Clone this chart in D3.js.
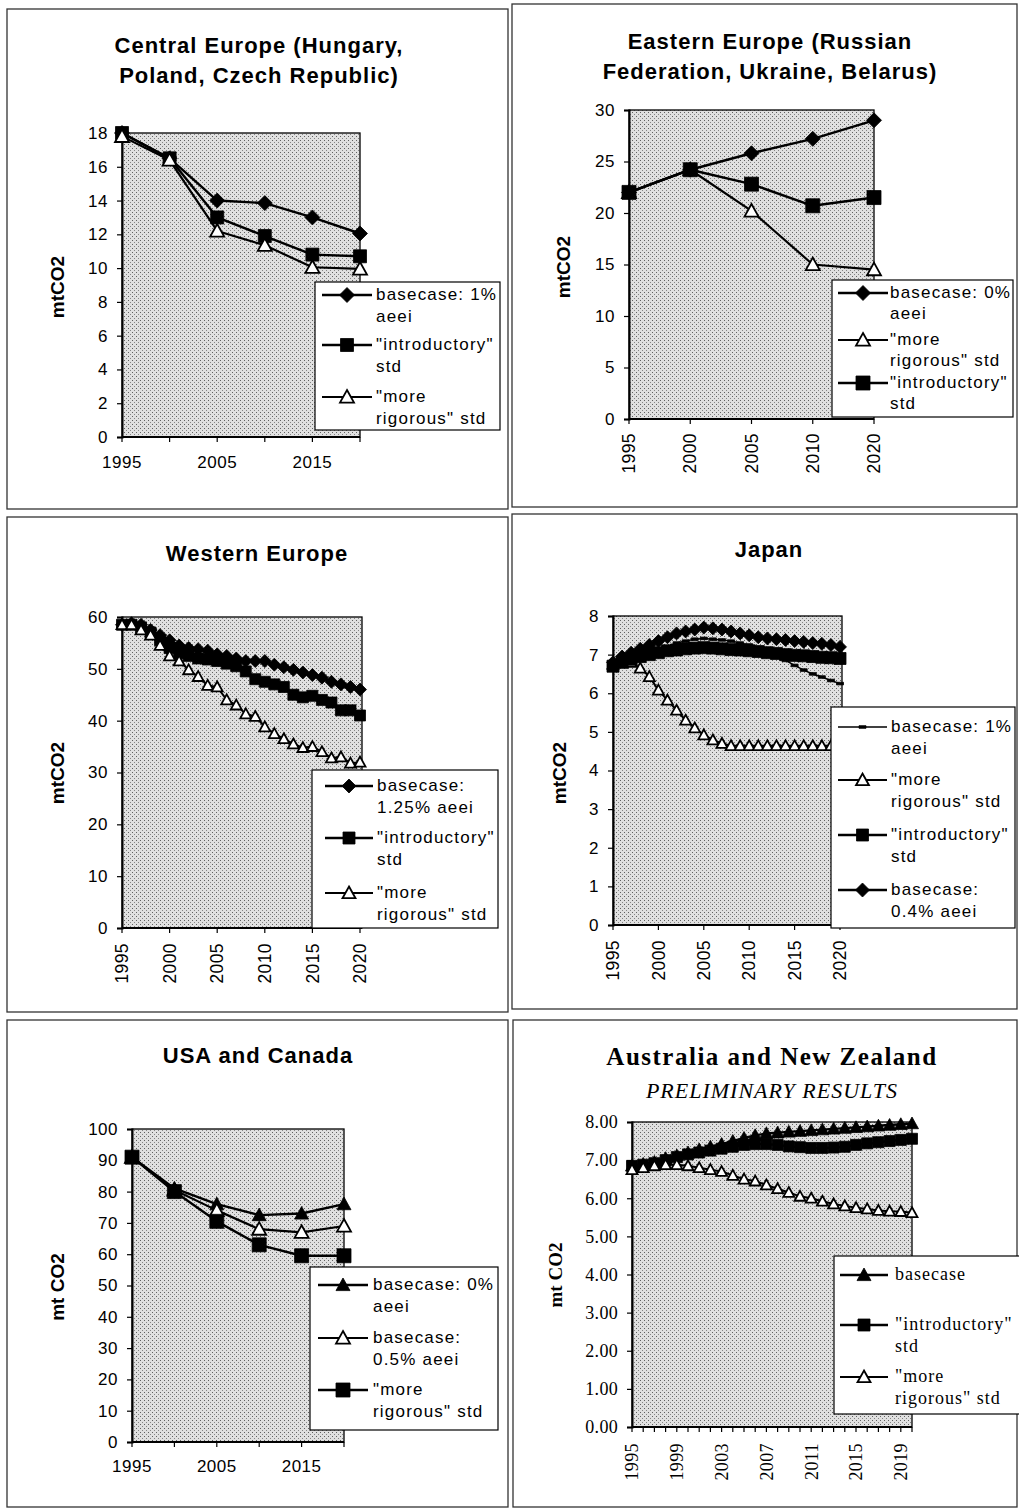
<!DOCTYPE html>
<html><head><meta charset="utf-8">
<script src="https://cdn.jsdelivr.net/npm/d3@7"></script>
<style>body{margin:0;background:#fff}</style>
</head><body>
<script>
// ---------------- DATA ----------------
// Central Europe
const ceYears = [1995, 2000, 2005, 2010, 2015, 2020];
const ceBase1 = [18.0, 16.5, 14.0, 13.85, 13.0, 12.05];
const ceIntro = [18.0, 16.5, 13.0, 11.9, 10.8, 10.7];
const ceRigor = [17.8, 16.4, 12.2, 11.35, 10.05, 9.95];
const ceYTicks = [0, 2, 4, 6, 8, 10, 12, 14, 16, 18];
const ceXLabels = [1995, 2005, 2015];

// Eastern Europe
const eeYears = [1995, 2000, 2005, 2010, 2020];
const eeBase0 = [22.0, 24.2, 25.8, 27.2, 29.0];
const eeRigor = [22.0, 24.2, 20.2, 15.0, 14.5];
const eeIntro = [22.0, 24.2, 22.8, 20.7, 21.5];
const eeYTicks = [0, 5, 10, 15, 20, 25, 30];
const eeXLabels = [1995, 2000, 2005, 2010, 2020];

// Annual categories
const annualYears = [1995,1996,1997,1998,1999,2000,2001,2002,2003,2004,2005,2006,2007,2008,2009,2010,2011,2012,2013,2014,2015,2016,2017,2018,2019,2020];

// Western Europe
const weBase125 = [58.5,58.8,58.5,57.5,56.5,55.5,54.5,54.0,53.8,53.5,52.8,52.5,52.0,51.5,51.5,51.5,50.8,50.3,49.8,49.3,48.8,48.3,47.5,47.0,46.5,46.0];
const weIntro   = [58.5,58.5,58.0,57.0,55.5,54.0,53.0,52.5,52.0,51.8,51.5,51.0,50.5,49.5,48.0,47.5,47.0,46.5,45.0,44.5,44.8,44.0,43.5,42.0,42.0,41.0];
const weRigor   = [58.5,58.5,57.5,56.5,54.5,52.5,51.5,49.8,48.5,46.8,46.5,44.0,43.0,41.3,40.8,38.8,37.5,36.5,35.5,34.8,35.0,34.0,32.8,33.0,31.8,32.0];
const weYTicks = [0, 10, 20, 30, 40, 50, 60];
const weXLabels = [1995, 2000, 2005, 2010, 2015, 2020];

// Japan
const jpBase1  = [6.75,6.85,6.95,7.0,7.05,7.1,7.2,7.3,7.35,7.4,7.42,7.4,7.38,7.35,7.3,7.25,7.15,7.05,6.95,6.85,6.72,6.6,6.5,6.42,6.33,6.25];
const jpRigor  = [6.75,6.8,6.8,6.65,6.43,6.08,5.82,5.56,5.3,5.1,4.92,4.79,4.7,4.64,4.64,4.64,4.64,4.64,4.64,4.64,4.64,4.64,4.64,4.64,4.64,4.64];
const jpIntro  = [6.7,6.8,6.88,6.95,7.0,7.05,7.1,7.12,7.15,7.17,7.18,7.17,7.15,7.13,7.12,7.1,7.08,7.05,7.03,7.0,6.98,6.97,6.95,6.93,6.92,6.9];
const jpBase04 = [6.8,6.95,7.05,7.15,7.25,7.35,7.45,7.55,7.6,7.65,7.7,7.68,7.65,7.6,7.55,7.5,7.45,7.42,7.4,7.38,7.35,7.33,7.3,7.28,7.25,7.2];
const jpYTicks = [0, 1, 2, 3, 4, 5, 6, 7, 8];
const jpXLabels = [1995, 2000, 2005, 2010, 2015, 2020];

// USA and Canada
const usYears = [1995, 2000, 2005, 2010, 2015, 2020];
const usBase0  = [91, 81, 76, 72.5, 73, 76];
const usBase05 = [91, 80.5, 74, 68, 67, 69];
const usRigor  = [91, 80, 70.5, 63, 59.5, 59.5];
const usYTicks = [0, 10, 20, 30, 40, 50, 60, 70, 80, 90, 100];
const usXLabels = [1995, 2005, 2015];

// Australia and New Zealand
const auBase  = [6.85,6.9,6.95,7.05,7.12,7.2,7.28,7.35,7.42,7.5,7.58,7.65,7.7,7.72,7.74,7.76,7.78,7.8,7.82,7.84,7.86,7.88,7.9,7.92,7.94,7.96];
const auIntro = [6.85,6.88,6.92,7.0,7.08,7.15,7.2,7.25,7.3,7.35,7.4,7.42,7.42,7.4,7.36,7.34,7.32,7.32,7.33,7.35,7.4,7.44,7.47,7.5,7.53,7.56];
const auRigor = [6.75,6.8,6.85,6.88,6.88,6.85,6.8,6.75,6.7,6.6,6.5,6.45,6.35,6.25,6.15,6.05,6.0,5.92,5.85,5.8,5.75,5.72,5.68,5.66,5.65,5.62];
const auYTicks = [0, 1, 2, 3, 4, 5, 6, 7, 8];
const auXLabels = [1995, 1999, 2003, 2007, 2011, 2015, 2019];

// ---------------- LAYOUT ----------------
const W = 1019, H = 1508;
const svg = d3.select("body").append("svg").attr("width", W).attr("height", H)
  .style("display","block");
svg.append("rect").attr("width", W).attr("height", H).attr("fill", "#fff");

const defs = svg.append("defs");
const pat = defs.append("pattern").attr("id","dots").attr("patternUnits","userSpaceOnUse")
  .attr("width",4).attr("height",4);
pat.append("rect").attr("width",4).attr("height",4).attr("fill","#e0e0e0");
pat.append("rect").attr("x",0).attr("y",0).attr("width",1).attr("height",1).attr("fill","#606060");
pat.append("rect").attr("x",2).attr("y",2).attr("width",1).attr("height",1).attr("fill","#858585");

const SANS = "Liberation Sans, Arial, sans-serif";
const SERIF = "Liberation Serif, Times New Roman, serif";

function markerPath(type, r) {
  if (type === "diamond") return `M0,${-r}L${r},0L0,${r}L${-r},0Z`;
  if (type === "square") return `M${-r},${-r}H${r}V${r}H${-r}Z`;
  if (type === "triangle") return `M0,${-r}L${r},${r*0.8}L${-r},${r*0.8}Z`;
  if (type === "dash") return `M-3.5,-1.3H3.5V1.3H-3.5Z`;
  return "";
}

const panels = [
  { frame:[7,9,508,509], plot:[122,133,360,437], xs:{type:"point", cats:ceYears, r0:122, r1:360},
    yTicks:ceYTicks, yFmt:d=>d, xLabels:ceXLabels, xRot:false, xLabY:468, minorTicks:ceYears,
    title:["Central Europe (Hungary,","Poland, Czech Republic)"], titleY:[53,83], titleX:259,
    ylab:"mtCO2", ylabX:57, ylabY:287, serif:false,
    legend:{box:[315,282,500,430], ys:[295,345,397], lx:[322,372], tx:376},
    series:[
      {name:["basecase: 1%","aeei"], cats:ceYears, vals:ceBase1, m:"diamond", r:7.5, fill:"#000", lw:2.4},
      {name:["\"introductory\"","std"], cats:ceYears, vals:ceIntro, m:"square", r:6.5, fill:"#000", lw:2.4},
      {name:["\"more","rigorous\" std"], cats:ceYears, vals:ceRigor, m:"triangle", r:7, fill:"#fff", lw:2.2}
    ]},
  { frame:[512,4,1017,507], plot:[629,110,874,419], xs:{type:"point", cats:eeYears, r0:629, r1:874},
    yTicks:eeYTicks, yFmt:d=>d, xLabels:eeXLabels, xRot:true, xLabY:433, minorTicks:eeYears,
    title:["Eastern Europe (Russian","Federation, Ukraine, Belarus)"], titleY:[49,79], titleX:770,
    ylab:"mtCO2", ylabX:563, ylabY:267, serif:false,
    legend:{box:[832,280,1013,417], ys:[293,340,383], lx:[838,888], tx:890, lh:21},
    series:[
      {name:["basecase: 0%","aeei"], cats:eeYears, vals:eeBase0, m:"diamond", r:7.5, fill:"#000", lw:2.4},
      {name:["\"more","rigorous\" std"], cats:eeYears, vals:eeRigor, m:"triangle", r:7, fill:"#fff", lw:2.2},
      {name:["\"introductory\"","std"], cats:eeYears, vals:eeIntro, m:"square", r:7, fill:"#000", lw:2.4}
    ]},
  { frame:[7,517,508,1012], plot:[122,617,362,928], xs:{type:"linear", d0:1995, d1:2020, r0:122, r1:360},
    yTicks:weYTicks, yFmt:d=>d, xLabels:weXLabels, xRot:true, xLabY:943, minorTicks:weXLabels,
    title:["Western Europe"], titleY:[561], titleX:257,
    ylab:"mtCO2", ylabX:57, ylabY:773, serif:false,
    legend:{box:[312,770,498,928], ys:[786,838,893], lx:[325,373], tx:377},
    series:[
      {name:["basecase:","1.25% aeei"], cats:annualYears, vals:weBase125, m:"diamond", r:6.5, fill:"#000", lw:2.4, lr:7},
      {name:["\"introductory\"","std"], cats:annualYears, vals:weIntro, m:"square", r:5.5, fill:"#000", lw:2.4, lr:6},
      {name:["\"more","rigorous\" std"], cats:annualYears, vals:weRigor, m:"triangle", r:5.5, fill:"#fff", lw:2, lr:6.5}
    ]},
  { frame:[512,514,1017,1009], plot:[613,616,842,925], xs:{type:"linear", d0:1995, d1:2020, r0:613, r1:840},
    yTicks:jpYTicks, yFmt:d=>d, xLabels:jpXLabels, xRot:true, xLabY:940, minorTicks:jpXLabels,
    title:["Japan"], titleY:[557], titleX:769,
    ylab:"mtCO2", ylabX:559, ylabY:773, serif:false,
    legend:{box:[831,707,1015,928], ys:[727,780,835,890], lx:[838,887], tx:891},
    series:[
      {name:["basecase: 1%","aeei"], cats:annualYears, vals:jpBase1, m:"dash", r:3, fill:"#000", lw:1.5},
      {name:["\"more","rigorous\" std"], cats:annualYears, vals:jpRigor, m:"triangle", r:5.5, fill:"#fff", lw:2, lr:6.5},
      {name:["\"introductory\"","std"], cats:annualYears, vals:jpIntro, m:"square", r:6, fill:"#000", lw:2.4, lr:6},
      {name:["basecase:","0.4% aeei"], cats:annualYears, vals:jpBase04, m:"diamond", r:6.5, fill:"#000", lw:2.4, lr:7}
    ]},
  { frame:[7,1020,508,1507], plot:[132,1129,344,1442], xs:{type:"point", cats:usYears, r0:132, r1:344},
    yTicks:usYTicks, yFmt:d=>d, xLabels:usXLabels, xRot:false, xLabY:1472, minorTicks:usYears,
    title:["USA and Canada"], titleY:[1063], titleX:258,
    ylab:"mt CO2", ylabX:57, ylabY:1287, serif:false,
    legend:{box:[310,1267,498,1430], ys:[1285,1338,1390], lx:[318,368], tx:373},
    series:[
      {name:["basecase: 0%","aeei"], cats:usYears, vals:usBase0, m:"triangle", r:7, fill:"#000", lw:2.4},
      {name:["basecase:","0.5% aeei"], cats:usYears, vals:usBase05, m:"triangle", r:7, fill:"#fff", lw:2.2},
      {name:["\"more","rigorous\" std"], cats:usYears, vals:usRigor, m:"square", r:7, fill:"#000", lw:2.4}
    ]},
  { frame:[513,1020,1017,1507], plot:[632,1122,912,1427], xs:{type:"linear", d0:1995, d1:2020, r0:632, r1:912},
    yTicks:auYTicks, yFmt:d3.format(".2f"), xLabels:auXLabels, xRot:true, xLabY:1443, minorTicks:annualYears,
    title:["Australia and New Zealand"], titleY:[1065], titleX:772, subtitle:"PRELIMINARY RESULTS", subY:1098,
    ylab:"mt CO2", ylabX:555, ylabY:1275, serif:true,
    legend:{box:[834,1256,1025,1414], ys:[1275,1325,1377], lx:[840,888], tx:895},
    series:[
      {name:["basecase"], cats:annualYears, vals:auBase, m:"triangle", r:6.5, fill:"#000", lw:2.4, lr:7},
      {name:["\"introductory\"","std"], cats:annualYears, vals:auIntro, m:"square", r:5.5, fill:"#000", lw:2.4, lr:6},
      {name:["\"more","rigorous\" std"], cats:annualYears, vals:auRigor, m:"triangle", r:5.5, fill:"#fff", lw:2, lr:6.5}
    ]}
];

panels.forEach(p => {
  const g = svg.append("g");
  const font = p.serif ? SERIF : SANS;
  const [fx0, fy0, fx1, fy1] = p.frame;
  g.append("rect").attr("x", fx0).attr("y", fy0).attr("width", fx1 - fx0).attr("height", fy1 - fy0)
    .attr("fill", "none").attr("stroke", "#333").attr("stroke-width", 1.3);

  const [L, T, R, B] = p.plot;
  const x = p.xs.type === "point"
    ? d3.scalePoint().domain(p.xs.cats).range([p.xs.r0, p.xs.r1]).padding(0)
    : d3.scaleLinear().domain([p.xs.d0, p.xs.d1]).range([p.xs.r0, p.xs.r1]);
  const yMax = p.yTicks[p.yTicks.length - 1];
  const y = d3.scaleLinear().domain([0, yMax]).range([B, T]);

  // plot area
  g.append("rect").attr("x", L).attr("y", T).attr("width", R - L).attr("height", B - T)
    .attr("fill", "url(#dots)").attr("stroke", "#000").attr("stroke-width", 1.3);

  // y axis
  const yAxis = d3.axisLeft(y).tickValues(p.yTicks).tickSize(5).tickPadding(9).tickFormat(p.yFmt);
  const ya = g.append("g").attr("transform", `translate(${L},0)`).call(yAxis);
  ya.select(".domain").attr("stroke", "#000").attr("stroke-width", 2);
  ya.selectAll(".tick line").attr("stroke", "#000").attr("stroke-width", 1.2);
  ya.selectAll(".tick text").attr("font-family", font).attr("font-size", p.serif ? 18 : 17)
    .attr("letter-spacing", p.serif ? 0.3 : 0.5).attr("fill", "#000");

  // x axis
  const xa = g.append("g").attr("transform", `translate(0,${B})`);
  xa.append("line").attr("x1", L).attr("x2", R).attr("y1", 0).attr("y2", 0)
    .attr("stroke", "#000").attr("stroke-width", 2);
  xa.selectAll("line.mt").data(p.minorTicks).join("line").attr("class", "mt")
    .attr("x1", d => x(d)).attr("x2", d => x(d)).attr("y1", 0).attr("y2", 5)
    .attr("stroke", "#000").attr("stroke-width", 1.2);
  if (p.xRot) {
    g.selectAll("text.xl").data(p.xLabels).join("text").attr("class", "xl")
      .attr("transform", d => `translate(${x(d)},${p.xLabY}) rotate(-90)`)
      .attr("text-anchor", "end").attr("dy", "0.35em")
      .attr("font-family", font).attr("font-size", p.serif ? 18 : 17.5)
      .attr("letter-spacing", 0.4).text(d => d);
  } else {
    g.selectAll("text.xl").data(p.xLabels).join("text").attr("class", "xl")
      .attr("x", d => x(d)).attr("y", p.xLabY).attr("text-anchor", "middle")
      .attr("font-family", font).attr("font-size", 17).attr("letter-spacing", 0.5).text(d => d);
  }

  // titles
  p.title.forEach((t, i) => {
    g.append("text").attr("x", p.titleX).attr("y", p.titleY[i]).attr("text-anchor", "middle")
      .attr("font-family", font).attr("font-weight", "bold")
      .attr("font-size", p.serif ? 25 : 22).attr("letter-spacing", p.serif ? 1.5 : 1).text(t);
  });
  if (p.subtitle) {
    g.append("text").attr("x", p.titleX).attr("y", p.subY).attr("text-anchor", "middle")
      .attr("font-family", font).attr("font-style", "italic").attr("font-size", 22)
      .attr("letter-spacing", 1).text(p.subtitle);
  }
  g.append("text").attr("transform", `translate(${p.ylabX},${p.ylabY}) rotate(-90)`)
    .attr("text-anchor", "middle").attr("dy", "0.35em")
    .attr("font-family", font).attr("font-weight", "bold").attr("font-size", 19).text(p.ylab);

  // series
  p.series.forEach(s => {
    const pts = s.cats.map((c, i) => ({ c, v: s.vals[i] }));
    const line = d3.line().x(d => x(d.c)).y(d => y(d.v));
    g.append("path").datum(pts).attr("d", line).attr("fill", "none")
      .attr("stroke", "#000").attr("stroke-width", s.lw).attr("stroke-linejoin", "round");
    g.selectAll(null).data(pts).join("path")
      .attr("transform", d => `translate(${x(d.c)},${y(d.v)})`)
      .attr("d", markerPath(s.m, s.r)).attr("fill", s.fill)
      .attr("stroke", "#000").attr("stroke-width", s.fill === "#fff" ? 1.8 : 0.8);
  });

  // legend
  const lg = p.legend;
  g.append("rect").attr("x", lg.box[0]).attr("y", lg.box[1])
    .attr("width", lg.box[2] - lg.box[0]).attr("height", lg.box[3] - lg.box[1])
    .attr("fill", "#fff").attr("stroke", "#000").attr("stroke-width", 1.2);
  const lh = lg.lh || 22;
  p.series.forEach((s, i) => {
    const ly = lg.ys[i];
    g.append("line").attr("x1", lg.lx[0]).attr("x2", lg.lx[1]).attr("y1", ly).attr("y2", ly)
      .attr("stroke", "#000").attr("stroke-width", s.lw);
    g.append("path").attr("transform", `translate(${(lg.lx[0] + lg.lx[1]) / 2},${ly})`)
      .attr("d", markerPath(s.m, s.lr || s.r)).attr("fill", s.fill)
      .attr("stroke", "#000").attr("stroke-width", s.fill === "#fff" ? 1.8 : 0.8);
    s.name.forEach((t, k) => {
      g.append("text").attr("x", lg.tx).attr("y", ly + 5 + k * lh)
        .attr("font-family", font).attr("font-size", p.serif ? 18 : 17)
        .attr("letter-spacing", p.serif ? 1 : 1.2).text(t);
    });
  });
});
</script>
</body></html>
